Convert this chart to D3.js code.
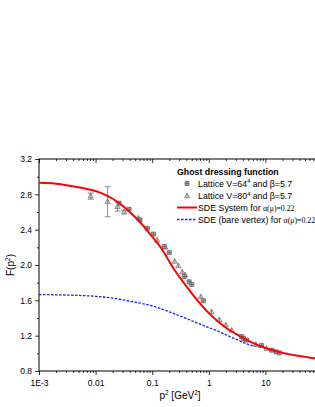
<!DOCTYPE html>
<html>
<head>
<meta charset="UTF-8">
<style>
  html, body { margin: 0; padding: 0; background: #fff; overflow: hidden; }
  svg { display: block; font-family: "Liberation Sans", Arial, sans-serif; }
</style>
</head>
<body>
<svg id="chart" width="315" height="407"></svg>
<script src="https://d3js.org/d3.v7.min.js"></script>
<script>
// lattice V=64^4, beta=5.7 : [p2, F]
const lat64 = [
  [0.026, 2.70], [0.039, 2.63], [0.061, 2.51], [0.082, 2.415], [0.105, 2.35],
  [0.164, 2.21], [0.20, 2.14], [0.37, 1.87], [0.45, 1.81], [0.50, 1.78],
  [0.80, 1.595], [3.8, 1.19], [4.07, 1.17], [4.67, 1.15], [8.5, 1.09],
  [12.9, 1.036], [15.4, 1.017], [17.6, 1.005]
];
// lattice V=80^4, beta=5.7 : [p2, F, err]
const lat80 = [
  [0.0082, 2.78, 0.035], [0.0163, 2.716, 0.17], [0.0245, 2.66, 0.05], [0.032, 2.60, 0.02],
  [0.057, 2.53, 0.01], [0.123, 2.28, 0.01], [0.17, 2.20, 0.01], [0.25, 2.04, 0.01],
  [0.29, 1.99, 0.01], [0.34, 1.92, 0.01], [0.38, 1.886, 0.01], [0.72, 1.64, 0.01],
  [1.12, 1.47, 0.01], [1.53, 1.38, 0.01], [2.0, 1.32, 0.01], [2.54, 1.26, 0.01],
  [4.3, 1.16, 0.01], [6.8, 1.10, 0.01], [10.5, 1.055, 0.01]
];
// SDE system, alpha(mu)=0.22
const sdeSystem = [
  [0.001, 2.93], [0.002, 2.92], [0.004, 2.89], [0.007, 2.86], [0.012, 2.82],
  [0.02, 2.75], [0.03, 2.67], [0.04, 2.60], [0.06, 2.49], [0.1, 2.32],
  [0.137, 2.21], [0.25, 1.94], [0.5, 1.68], [1, 1.455], [2, 1.29], [3, 1.22],
  [5, 1.14], [10, 1.06], [20, 1.005], [50, 0.96], [100, 0.93]
];
// SDE bare vertex, alpha(mu)=0.22
const sdeBare = [
  [0.001, 1.665], [0.003, 1.66], [0.01, 1.645], [0.02, 1.625], [0.045, 1.585],
  [0.09, 1.545], [0.137, 1.51], [0.2, 1.47], [0.35, 1.41], [0.7, 1.33],
  [1.4, 1.255], [3, 1.16], [5.3, 1.095], [10, 1.06], [20, 1.01], [50, 0.96], [100, 0.935]
];
const xTicks = [0.001, 0.01, 0.1, 1, 10, 100];
const xTickLabels = ["1E-3", "0.01", "0.1", "1", "10", ""];
const yTicks = [0.8, 1.2, 1.6, 2.0, 2.4, 2.8, 3.2];

const svg = d3.select("#chart");
const L = 39, T = 159, R = 322, B = 371;

const x = d3.scaleLog().domain([0.001, 100]).range([L, R]);
const y = d3.scaleLinear().domain([0.8, 3.2]).range([B, T]);

// minor ticks on log axis
const xMinor = [];
for (let e = -3; e < 2; e++) for (let k = 2; k < 10; k++) xMinor.push(k * Math.pow(10, e));
const yMinor = d3.range(1.0, 3.2, 0.4);

const axisCol = "#000";
const g = svg.append("g");

// bottom axis (ticks out)
g.append("g").attr("transform", `translate(0,${B})`)
  .call(d3.axisBottom(x).tickValues(xTicks).tickFormat((d, i) => xTickLabels[i]).tickSize(4).tickSizeOuter(0))
  .call(a => a.select(".domain").remove())
  .call(a => a.selectAll("text").attr("font-size", 8.5).attr("dy", "0.95em").attr("fill", "#000"));
g.append("g").attr("transform", `translate(0,${B})`)
  .call(d3.axisBottom(x).tickValues(xMinor).tickFormat("").tickSize(2).tickSizeOuter(0))
  .call(a => a.select(".domain").remove());
// top axis (ticks in)
g.append("g").attr("transform", `translate(0,${T})`)
  .call(d3.axisBottom(x).tickValues(xTicks).tickFormat("").tickSize(4).tickSizeOuter(0))
  .call(a => a.select(".domain").remove());
g.append("g").attr("transform", `translate(0,${T})`)
  .call(d3.axisBottom(x).tickValues(xMinor).tickFormat("").tickSize(2).tickSizeOuter(0))
  .call(a => a.select(".domain").remove());
// left axis
g.append("g").attr("transform", `translate(${L},0)`)
  .call(d3.axisLeft(y).tickValues(yTicks).tickFormat(d3.format(".1f")).tickSize(4).tickSizeOuter(0))
  .call(a => a.select(".domain").remove())
  .call(a => a.selectAll("text").attr("font-size", 8.5).attr("fill", "#000"));
g.append("g").attr("transform", `translate(${L},0)`)
  .call(d3.axisLeft(y).tickValues(yMinor).tickFormat("").tickSize(2).tickSizeOuter(0))
  .call(a => a.select(".domain").remove());
g.selectAll(".tick line").attr("stroke", axisCol).attr("stroke-width", 0.8);

// frame
g.append("rect").attr("x", L).attr("y", T).attr("width", R - L).attr("height", B - T)
  .attr("fill", "none").attr("stroke", axisCol).attr("stroke-width", 1);

// curves
const line = d3.line().x(d => x(d[0])).y(d => y(d[1])).curve(d3.curveMonotoneX);
const clip = svg.append("clipPath").attr("id", "clip").append("rect")
  .attr("x", L).attr("y", T).attr("width", R - L).attr("height", B - T);

svg.append("path").datum(sdeBare).attr("d", line).attr("fill", "none")
  .attr("stroke", "#1a1aff").attr("stroke-width", 1.3).attr("stroke-dasharray", "2.5,1.5")
  .attr("clip-path", "url(#clip)");

// lattice symbols
const grey = "#707070";
const p80 = svg.append("g");
p80.selectAll("line.err").data(lat80.filter(d => d[2] > 0.015)).join("g").each(function (d) {
  const s = d3.select(this);
  const cx = x(d[0]);
  s.append("line").attr("x1", cx).attr("x2", cx).attr("y1", y(d[1] - d[2])).attr("y2", y(d[1] + d[2]))
    .attr("stroke", grey).attr("stroke-width", 0.8);
  [d[1] - d[2], d[1] + d[2]].forEach(v => s.append("line").attr("x1", cx - 3).attr("x2", cx + 3)
    .attr("y1", y(v)).attr("y2", y(v)).attr("stroke", grey).attr("stroke-width", 0.8));
});
const tri = "M0,-2.8L2.6,1.8L-2.6,1.8Z";
p80.selectAll("path").data(lat80).join("path")
  .attr("transform", d => `translate(${x(d[0])},${y(d[1])})`)
  .attr("d", tri + "M0,-2.8V1.8").attr("fill", "#d8d8d8").attr("stroke", grey).attr("stroke-width", 0.7);

const sq = "M-2,-2H2V2H-2Z M-2,0H2 M0,-2V2";
svg.append("g").selectAll("path").data(lat64).join("path")
  .attr("transform", d => `translate(${x(d[0])},${y(d[1])})`)
  .attr("d", sq).attr("fill", "#bdbdbd").attr("stroke", "#555").attr("stroke-width", 0.7);

svg.append("path").datum(sdeSystem).attr("d", line).attr("fill", "none")
  .attr("stroke", "#ff0000").attr("stroke-width", 2)
  .attr("clip-path", "url(#clip)");

// axis titles
const yl = svg.append("text").attr("transform", "translate(14,265) rotate(-90)")
  .attr("text-anchor", "middle").attr("font-size", 10);
yl.append("tspan").text("F(p");
yl.append("tspan").attr("font-size", 6.5).attr("dy", -4).text("2");
yl.append("tspan").attr("dy", 4).text(")");

const xl = svg.append("text").attr("x", 180).attr("y", 399).attr("text-anchor", "middle").attr("font-size", 10);
xl.append("tspan").text("p");
xl.append("tspan").attr("font-size", 6.5).attr("dy", -4).text("2");
xl.append("tspan").attr("dy", 4).text(" [GeV");
xl.append("tspan").attr("font-size", 6.5).attr("dy", -4).text("2");
xl.append("tspan").attr("dy", 4).text("]");

// legend
const lg = svg.append("g").attr("font-size", 8.8);
lg.append("text").attr("x", 177).attr("y", 175).attr("font-weight", "bold").text("Ghost dressing function");
lg.append("path").attr("transform", "translate(187,183.5)").attr("d", sq)
  .attr("fill", "#bdbdbd").attr("stroke", "#555").attr("stroke-width", 0.7);
lg.append("path").attr("transform", "translate(187,196)").attr("d", tri + "M0,-2.8V1.8")
  .attr("fill", "#d8d8d8").attr("stroke", grey).attr("stroke-width", 0.7);
const t1 = lg.append("text").attr("x", 198).attr("y", 186.5);
t1.append("tspan").text("Lattice V=64");
t1.append("tspan").attr("font-size", 5.5).attr("dy", -3.5).text("4");
t1.append("tspan").attr("dy", 3.5).text(" and β=5.7");
const t2 = lg.append("text").attr("x", 198).attr("y", 199);
t2.append("tspan").text("Lattice V=80");
t2.append("tspan").attr("font-size", 5.5).attr("dy", -3.5).text("4");
t2.append("tspan").attr("dy", 3.5).text(" and β=5.7");
lg.append("line").attr("x1", 177).attr("x2", 197).attr("y1", 207.5).attr("y2", 207.5)
  .attr("stroke", "#ff0000").attr("stroke-width", 2);
lg.append("line").attr("x1", 177).attr("x2", 197).attr("y1", 219.5).attr("y2", 219.5)
  .attr("stroke", "#1a1aff").attr("stroke-width", 1.3).attr("stroke-dasharray", "2.5,1.5");
const t3 = lg.append("text").attr("x", 198).attr("y", 210.5);
t3.append("tspan").text("SDE System for ");
t3.append("tspan").attr("font-family", "Liberation Serif, serif").attr("font-size", 7.8).text("α(μ)=0.22");
const t4 = lg.append("text").attr("x", 198).attr("y", 222.5);
t4.append("tspan").text("SDE (bare vertex) for ");
t4.append("tspan").attr("font-family", "Liberation Serif, serif").attr("font-size", 7.8).text("α(μ)=0.22");
</script>
</body>
</html>
